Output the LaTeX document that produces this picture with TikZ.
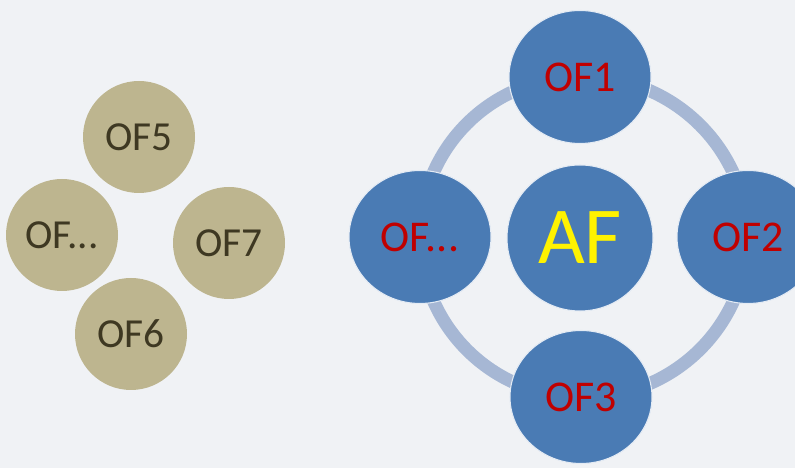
\documentclass[tikz,border=0pt]{standalone}
\usepackage{fontspec}
\setmainfont{Carlito}
\usetikzlibrary{shapes.geometric,backgrounds}
\definecolor{bgcol}{RGB}{240,242,245}
\definecolor{tan}{RGB}{189,181,143}
\definecolor{tantext}{RGB}{62,56,34}
\definecolor{ballblue}{RGB}{74,123,180}
\definecolor{ringblue}{RGB}{166,183,212}
\definecolor{ofred}{RGB}{192,0,0}

\begin{document}
\begin{tikzpicture}[every node/.style={outer sep=0pt, inner sep=0pt},
  tanball/.style={circle, fill=tan, minimum size=2.24cm, text=tantext, font=\fontsize{23.5}{26}\selectfont},
  blueball/.style={ellipse, fill=ballblue, draw=white!85!ballblue, line width=0.6pt, minimum width=2.84cm, minimum height=2.66cm, text=ofred, font=\fontsize{25}{28}\selectfont},
  ring/.style={ringblue, line width=7.4pt}]
\useasboundingbox (0,0) rectangle (15.9,9.36);

\node[tanball] (of5) at (2.78,6.62) {OF5};
\node[tanball] (ofl) at (1.24,4.66) {OF...};
\node[tanball] (of7) at (4.58,4.50) {OF7};
\node[tanball] (of6) at (2.62,2.68) {OF6};

\node[blueball, minimum width=2.92cm, minimum height=2.92cm, text=yellow, font=\fontsize{46}{48}\selectfont] (af) at (11.6,4.6) {AF};
\node[blueball] (of1) at (11.6,7.82) {OF1};
\node[blueball] (of2) at (14.96,4.62) {OF2};
\node[blueball] (of3) at (11.62,1.42) {OF3};
\node[blueball] (ofr) at (8.4,4.62) {OF...};

\begin{scope}[on background layer]
\fill[bgcol] (0,0) rectangle (15.9,9.36);
\draw[ring] (of1.center) to[bend left=45] (of2.center)
  to[bend left=45] (of3.center) to[bend left=45] (ofr.center)
  to[bend left=45] (of1.center);
\end{scope}
\end{tikzpicture}
\end{document}
